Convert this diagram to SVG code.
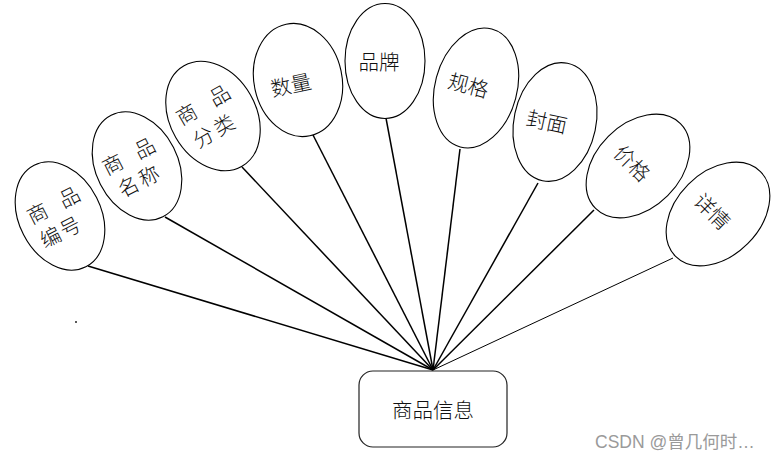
<svg xmlns="http://www.w3.org/2000/svg" width="779" height="459" viewBox="0 0 779 459">
<style>
.attr ellipse{fill:#fff;stroke:#000;stroke-width:1.1}
.lbl{font-family:"Noto Sans CJK SC","Noto Sans",sans-serif;font-size:20.5px;fill:#111;text-anchor:middle;dominant-baseline:central;font-weight:300}
.conn line{stroke:#000;stroke-width:1.5}
.wm{font-family:"Liberation Sans","Noto Sans CJK SC",sans-serif;font-size:17.5px;fill:#9a9a9a}
</style>
<rect width="779" height="459" fill="#fff"/>
<g class="conn">
<line x1="88" y1="266" x2="433" y2="370"/>
<line x1="165" y1="217" x2="433" y2="370"/>
<line x1="242" y1="167" x2="433" y2="370"/>
<line x1="313" y1="135" x2="433" y2="370"/>
<line x1="386" y1="118" x2="433" y2="370"/>
<line x1="460" y1="149" x2="433" y2="370"/>
<line x1="538" y1="183" x2="433" y2="370"/>
<line x1="594" y1="210" x2="433" y2="370"/>
<line x1="673" y1="258" x2="433" y2="370" style="stroke-width:1"/>
</g>
<g id="n1" class="attr" transform="translate(60,216) rotate(-27)">
<ellipse rx="41" ry="57"/>
<text class="lbl"><tspan x="-19" y="-14">商</tspan><tspan x="17" y="-14">品</tspan><tspan x="-18" y="13">编</tspan><tspan x="4" y="13">号</tspan></text>
</g>
<g id="n2" class="attr" transform="translate(137,166) rotate(-27)">
<ellipse rx="41" ry="57"/>
<text class="lbl"><tspan x="-21" y="-14">商</tspan><tspan x="15" y="-14">品</tspan><tspan x="-17" y="13">名</tspan><tspan x="6" y="13">称</tspan></text>
</g>
<g id="n3" class="attr" transform="translate(213,116) rotate(-30)">
<ellipse rx="43" ry="58"/>
<text class="lbl"><tspan x="-22" y="-16">商</tspan><tspan x="16" y="-16">品</tspan><tspan x="-19" y="12">分</tspan><tspan x="5" y="12">类</tspan></text>
</g>
<g id="n4" class="attr" transform="translate(298,80) rotate(-12)">
<ellipse rx="44" ry="57"/>
<text class="lbl" x="-8" y="2">数量</text>
</g>
<g id="n5" class="attr" transform="translate(385,61)">
<ellipse rx="40" ry="57.5"/>
<text class="lbl" x="-6" y="0">品牌</text>
</g>
<g id="n6" class="attr" transform="translate(476,88) rotate(15)">
<ellipse rx="41" ry="61"/>
<text class="lbl" x="-8" y="-2">规格</text>
</g>
<g id="n7" class="attr" transform="translate(555,122) rotate(12)">
<ellipse rx="41" ry="60"/>
<text class="lbl" x="-8" y="0">封面</text>
</g>
<g id="n8" class="attr" transform="translate(638,166) rotate(45)">
<ellipse rx="42" ry="60"/>
<text class="lbl" x="-6" y="1">价格</text>
</g>
<g id="n9" class="attr" transform="translate(718,214) rotate(45)">
<ellipse rx="42" ry="60"/>
<text class="lbl" x="-6" y="1">详情</text>
</g>
<g id="main">
<rect x="359" y="371" width="148" height="76" rx="14" ry="14" fill="#fff" stroke="#222" stroke-width="1.2"/>
<text class="lbl" x="433" y="409" style="font-size:20.5px">商品信息</text>
</g>
<circle cx="76" cy="322" r="1" fill="#222"/>
<text class="wm" x="595" y="448">CSDN @曾几何时…</text>
</svg>
